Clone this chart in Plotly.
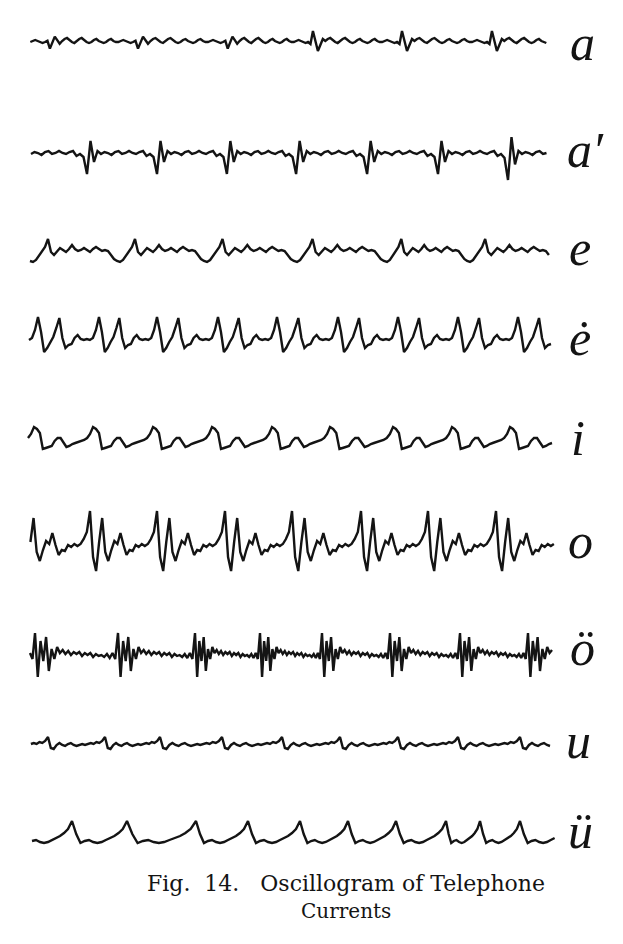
import plotly.graph_objects as go

W, H = 623, 944

# ---------------- data ----------------
# Each trace: cycle boundaries (x, px), one cycle's shape (offsets, up = +),
# and per-cycle scale of the leading spike part.
A_MARKS = [-43, 45, 133, 223, 308, 397, 487, 576]
A_SHAPE = [0, -2, 11, 2, -9, -3, 3,
           1, 3, 4, 2, 0, -1, 1, 3, 4, 2, 0, -1, 0, 2, 3, 1, 0, -1, 0, 2, 3, 1, 0, 0, 1, 2, 1, 0, -1]
A_SPIKE_N = 7
A_SCALE = [-0.6, -0.6, -0.6, -0.6, 1, 1, 1]

A2_MARKS = [10, 80, 150, 220, 289, 360, 431, 501, 571]
A2_SHAPE = [0, -3, -20, 13, -8, 3, 0, 2, 1, -1, 2, 3, 0, 1, 3, 1, 0, 2, 3, -2]
A2_SPIKE_N = 5
A2_SCALE = [1, 1, 1, 1, 1, 1, 1, 1.3]

E_MARKS = [-55, 33, 120, 207, 297, 387, 470, 558]
E_SHAPE = [-10, -8, -4, 0, 5, 13, 0, -3, 1, 4, 2, 0, 3, 7, 3, 1, 2, 4, 2, 0, 3, 5, 3, 1, 2, 1, -3, -7, -9]

E2_MARKS = [-22, 38, 99, 157, 218, 277, 338, 398, 458, 518, 578]
E2_SHAPE = [23, 8, -12, -8, -2, 3, 12, 22, 2, -8, -5, -4, 2, 5, 1, 0, 1, 0, 2, 10]

I_MARKS = [-26, 34, 93, 153, 212, 272, 330, 393, 452, 510, 570]
I_SHAPE = [16, 14, 10, -6, -5, -4, -3, 2, 5, 5, 0, -4, -3, -1, 0, 1, 2, 3, 5, 9]

O_MARKS = [21, 90, 157, 225, 292, 361, 428, 496, 563]
O_SHAPE = [36, -10, -24, 5, 29, -5, -14, -3, 6, 3, 14, 2, -8, -3, -4, 2, 0, 3, 1, 3, 8, 15]

OE_MARKS = [-40, 35, 118, 195, 260, 322, 390, 460, 528, 600]
OE_SHAPE = [22, -22, 14, -6, 18, -16, 6, -4, 8, 2, 5, 1, 4, 0, 3, 1, 3, -1, 2, 0, 2, -2, 1, -1, 0, -2, 1, -3, 2, -4]

U_MARKS = [-9, 48, 105, 160, 222, 282, 340, 398, 458, 520, 580]
U_SHAPE = [8, -3, -4, 0, 2, 0, -1, 1, 2, 0, -1, 0, 1, 0, 1, 2, 1, 3, 2, 4]

UE_MARKS = [20, 72, 127, 196, 248, 300, 348, 396, 446, 480, 520, 570]
UE_SHAPE = [17, 4, -5, -3, -2, -4, -5, -4, -2, 0, 2, 5, 9]

LABELS = ["a", "a′", "e", "ė", "i", "o", "ö", "u", "ü"]
CAPTION = ["Fig.\u00a0 14.\u00a0\u00a0 Oscillogram of Telephone", "Currents"]

# ---------------- layout constants ----------------
BASE_Y = [42, 154, 252, 340, 443, 547, 655, 745, 838]
X_START = [28, 28, 28, 28, 28, 29, 28, 30, 30]
X_END = [547, 547, 549, 552, 552, 555, 552, 552, 555]
LABEL_POS = [(582, 43), (585, 150), (580, 248), (580, 338), (578, 438),
             (580, 541), (582, 648), (578, 741), (580, 831)]

TRACES = [
    (A_MARKS, A_SHAPE, A_SPIKE_N, A_SCALE),
    (A2_MARKS, A2_SHAPE, A2_SPIKE_N, A2_SCALE),
    (E_MARKS, E_SHAPE, 0, None),
    (E2_MARKS, E2_SHAPE, 0, None),
    (I_MARKS, I_SHAPE, 0, None),
    (O_MARKS, O_SHAPE, 0, None),
    (OE_MARKS, OE_SHAPE, 0, None),
    (U_MARKS, U_SHAPE, 0, None),
    (UE_MARKS, UE_SHAPE, 0, None),
]


def build(marks, shape, nspike, scales, x0, x1, base):
    xs, ys = [], []
    n = len(shape)
    for k in range(len(marks) - 1):
        w = marks[k + 1] - marks[k]
        s = scales[k] if scales else 1
        for j, v in enumerate(shape):
            x = marks[k] + j * w / n
            val = v * s if j < nspike else v
            if x0 <= x <= x1:
                xs.append(x)
                ys.append(base - val)
    return xs, ys


fig = go.Figure()
for i, (marks, shape, nsp, sc) in enumerate(TRACES):
    xs, ys = build(marks, shape, nsp, sc, X_START[i], X_END[i], BASE_Y[i])
    fig.add_trace(go.Scatter(x=xs, y=ys, mode="lines",
                             line=dict(color="#141414", width=2.4),
                             hoverinfo="skip", showlegend=False))

for lab, (lx, ly) in zip(LABELS, LABEL_POS):
    fig.add_annotation(x=lx, y=ly, text="<i>" + lab + "</i>", showarrow=False,
                       xref="x", yref="y", xanchor="center", yanchor="middle",
                       font=dict(family="Liberation Serif", size=50, color="#141414"))

fig.add_annotation(x=346, y=883, text=CAPTION[0], showarrow=False, xref="x", yref="y",
                   font=dict(family="DejaVu Serif", size=22, color="#141414"))
fig.add_annotation(x=346, y=911, text=CAPTION[1], showarrow=False, xref="x", yref="y",
                   font=dict(family="DejaVu Serif", size=20, color="#141414"))

fig.update_layout(width=W, height=H, margin=dict(l=0, r=0, t=0, b=0),
                  paper_bgcolor="white", plot_bgcolor="white")
fig.update_xaxes(range=[0, W], visible=False, fixedrange=True)
fig.update_yaxes(range=[H, 0], visible=False, fixedrange=True)

fig.write_html("out.html")
